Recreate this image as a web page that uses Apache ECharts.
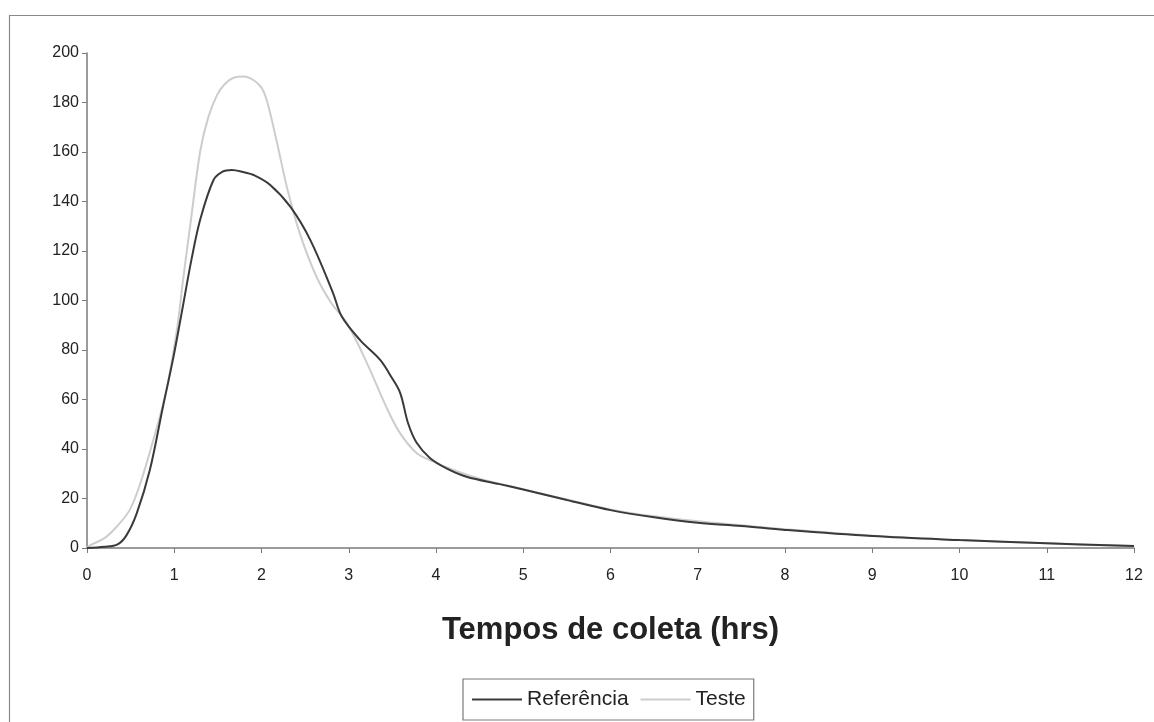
<!DOCTYPE html>
<html><head><meta charset="utf-8">
<script src="https://cdn.jsdelivr.net/npm/echarts@6/dist/echarts.min.js"></script>
<style>html,body{margin:0;padding:0;background:#fff}#c{width:1154px;height:722px}</style>
</head><body><div id="c"></div>
<script>
const xTicks = [0,1,2,3,4,5,6,7,8,9,10,11,12];
const yTicks = [0,20,40,60,80,100,120,140,160,180,200];
const seriesNames = ['Referência','Teste'];
const timeRef = [0,0.2,0.35,0.45,0.57,0.72,0.87,0.99,1.08,1.2,1.3,1.45,1.55,1.66,1.8,1.91,2.1,2.33,2.56,2.82,2.92,3.13,3.36,3.49,3.59,3.68,3.78,3.93,4.12,4.35,4.73,5,5.5,6,6.5,7,7.5,8,9,10,11,12];
const ref = [0,0.5,1.5,5,14,31.5,57,77,94,117,133,148.7,152,152.7,151.8,150.7,146.7,137.9,124.4,103,93.5,84,76,69,62.6,50.4,42.4,36.4,32.2,28.8,25.8,23.6,19.4,15.3,12.4,10.2,8.9,7.3,4.8,3.2,1.9,0.8];
const timeTest = [0,0.03,0.2,0.34,0.49,0.61,0.76,0.91,1.03,1.1,1.2,1.3,1.39,1.49,1.58,1.68,1.8,1.91,2.0,2.06,2.17,2.29,2.44,2.63,2.8,2.98,3.21,3.43,3.59,3.78,3.97,4.2,4.5,5,5.5,6,6.5,7,7.5,8,9,10,11,12];
const test = [0,1,4,8.6,15.4,26,43.6,63.8,88,108,135,160.8,174,183,187.5,190,190.5,189,186,181,165,146,127,109.6,99,90.8,74.6,57,46.3,38.3,34.9,31.5,28,23.7,19.6,15.6,12.8,10.8,9.2,7.6,5,3.2,1.9,0.8];

const pair = (xs, ys) => xs.map((x, i) => [x, ys[i]]);
const font = '"Liberation Sans", Arial, sans-serif';
const chart = echarts.init(document.getElementById('c'), null, {renderer: 'canvas'});
chart.setOption({
  backgroundColor: '#fff',
  animation: false,
  graphic: [{type: 'rect', left: 7, top: 13, shape: {width: 1170, height: 740}, style: {fill: 'none', stroke: '#8a8a8a', lineWidth: 1.2}, silent: true}],
  grid: {left: 87, right: 20, top: 53, bottom: 174},
  xAxis: {
    type: 'value', min: xTicks[0], max: xTicks[xTicks.length - 1], interval: 1,
    name: 'Tempos de coleta (hrs)', nameLocation: 'middle', nameGap: 67,
    nameTextStyle: {fontFamily: font, fontSize: 31, fontWeight: 'bold', color: '#222'},
    axisLine: {lineStyle: {color: '#7a7a7a', width: 1.5}},
    axisTick: {length: 5, lineStyle: {color: '#7a7a7a'}},
    axisLabel: {fontFamily: font, fontSize: 16, color: '#222', margin: 20},
    splitLine: {show: false}
  },
  yAxis: {
    type: 'value', min: yTicks[0], max: yTicks[yTicks.length - 1], interval: 20,
    axisLine: {show: true, lineStyle: {color: '#7a7a7a', width: 1.5}},
    axisTick: {show: true, length: 5, lineStyle: {color: '#7a7a7a'}},
    axisLabel: {fontFamily: font, fontSize: 16, color: '#222', margin: 8},
    splitLine: {show: false}
  },
  legend: {
    left: 463, top: 679,
    borderColor: '#7a7a7a', borderWidth: 1.2, padding: [10, 8, 10, 9],
    icon: 'rect', itemWidth: 50, itemHeight: 2, itemGap: 12,
    textStyle: {fontFamily: font, fontSize: 21, color: '#222'},
    data: seriesNames
  },
  series: [
    {name: seriesNames[1], type: 'line', data: pair(timeTest, test), smooth: 0.35, symbol: 'none',
     lineStyle: {color: '#cdcdcd', width: 2}, itemStyle: {color: '#cdcdcd'}},
    {name: seriesNames[0], type: 'line', data: pair(timeRef, ref), smooth: 0.35, symbol: 'none',
     lineStyle: {color: '#3a3a3a', width: 2}, itemStyle: {color: '#3a3a3a'}}
  ]
});
</script></body></html>
